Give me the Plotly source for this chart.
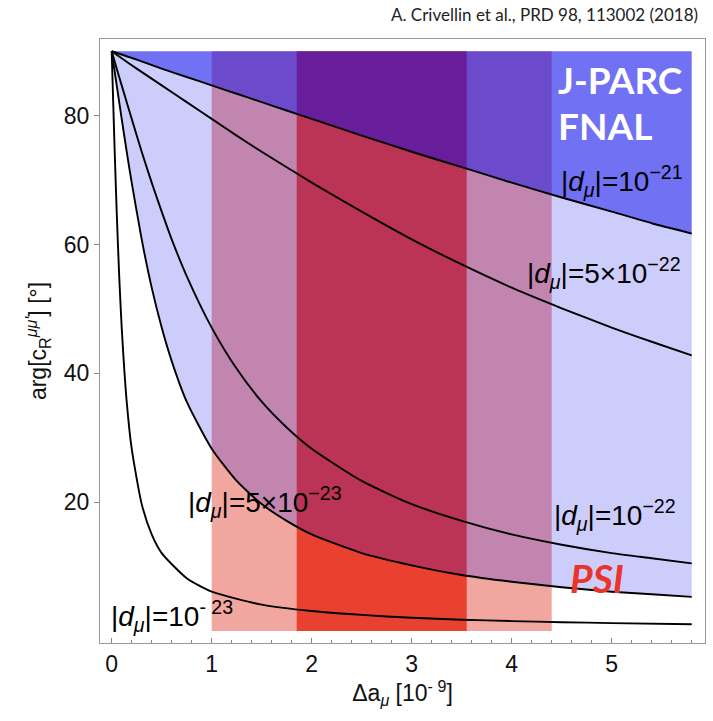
import plotly.graph_objects as go

# ---- data ----
x_21 = [0, 0.25, 0.5, 0.75, 1, 1.25, 1.5, 1.75, 2, 2.5, 3, 3.5, 4, 4.5, 5, 5.4, 5.8]
y_21 = [90, 88.7, 87.3, 86.0, 84.7, 83.4, 82.1, 80.8, 79.5, 76.9, 74.4, 72.0, 69.6, 67.3, 65.1, 63.3, 61.7]

x_5e22 = [0, 0.1, 0.25, 0.5, 0.75, 1, 1.25, 1.5, 1.75, 2, 2.5, 3, 3.5, 4, 4.5, 5, 5.4, 5.8]
y_5e22 = [90, 88.9, 87.3, 84.7, 82.1, 79.5, 76.9, 74.4, 72.0, 69.6, 65.1, 60.8, 56.9, 53.3, 50.1, 47.1, 44.9, 42.8]

x_22 = [0, 0.05, 0.1, 0.2, 0.3, 0.4, 0.5, 0.6, 0.75, 1, 1.25, 1.5, 1.75, 2, 2.5, 3, 3.5, 4, 4.5, 5, 5.4, 5.8]
y_22 = [90, 87.3, 84.7, 79.5, 74.4, 69.6, 65.1, 60.8, 55.1, 47.1, 40.7, 35.6, 31.6, 28.3, 23.3, 19.7, 17.1, 15.0, 13.4, 12.1, 11.3, 10.5]

x_5e23 = [0, 0.025, 0.05, 0.1, 0.15, 0.2, 0.3, 0.4, 0.5, 0.6, 0.75, 1, 1.25, 1.5, 1.75, 2, 2.5, 3, 3.5, 4, 4.5, 5, 5.4, 5.8]
y_5e23 = [90, 87.3, 84.7, 79.5, 74.4, 69.6, 60.8, 53.3, 47.1, 41.9, 35.6, 28.3, 23.3, 19.7, 17.1, 15.0, 12.1, 10.2, 8.7, 7.65, 6.8, 6.1, 5.7, 5.3]

x_23 = [0, 0.005, 0.01, 0.02, 0.03, 0.05, 0.075, 0.1, 0.15, 0.2, 0.3, 0.4, 0.5, 0.75, 1, 1.5, 2, 2.5, 3, 3.5, 4, 4.5, 5, 5.8]
y_23 = [90, 87.3, 84.7, 79.5, 74.4, 65.1, 55.1, 47.1, 35.6, 28.3, 19.7, 15.0, 12.1, 8.2, 6.1, 4.1, 3.1, 2.5, 2.05, 1.76, 1.54, 1.37, 1.23, 1.06]

band_psi = [1.0, 4.4]        # light red band
band_psi_core = [1.85, 3.55]  # dark red band
y_top = 90
x_ticks = [0, 1, 2, 3, 4, 5]
y_ticks = [20, 40, 60, 80]

BLUE_BASE = "5,5,235"
fig = go.Figure()

# lavender region between 5e-23 and 1e-21 curves
fig.add_trace(go.Scatter(
    x=x_5e23 + x_21[::-1], y=y_5e23 + y_21[::-1],
    fill="toself", fillcolor=f"rgba({BLUE_BASE},0.2)", mode="lines",
    line=dict(width=0), hoverinfo="skip", showlegend=False))
# blue region above 1e-21 curve
fig.add_trace(go.Scatter(
    x=x_21 + [x_21[-1], x_21[0]], y=y_21 + [y_top, y_top],
    fill="toself", fillcolor=f"rgba({BLUE_BASE},0.57)", mode="lines",
    line=dict(width=0), hoverinfo="skip", showlegend=False))

for xs, ys in [(x_21, y_21), (x_5e22, y_5e22), (x_22, y_22), (x_5e23, y_5e23), (x_23, y_23)]:
    fig.add_trace(go.Scatter(x=xs, y=ys, mode="lines",
                             line=dict(color="black", width=1.9, shape="spline", smoothing=0.6),
                             hoverinfo="skip", showlegend=False))

shapes = [
    dict(type="rect", xref="x", yref="y", x0=band_psi[0], x1=band_psi[1], y0=0, y1=y_top,
         fillcolor="rgb(241,166,160)", line=dict(width=0), layer="below"),
    dict(type="rect", xref="x", yref="y", x0=band_psi_core[0], x1=band_psi_core[1], y0=0, y1=y_top,
         fillcolor="rgb(233,64,48)", line=dict(width=0), layer="below"),
]

HELV = "Liberation Sans"
lab_font = dict(family=HELV, size=28, color="black")
d = "|<i>d</i><sub><i>μ</i></sub>|="
annotations = [
    dict(x=0.992, y=1 + 25 / 604, xref="paper", yref="paper", xanchor="right", yanchor="middle",
         text="A. Crivellin et al., PRD 98, 113002 (2018)", showarrow=False,
         font=dict(family="Lato", size=17, color="#222")),
    dict(x=4.44, y=85.6, text="<b>J-PARC</b>", xanchor="left", yanchor="middle", showarrow=False,
         font=dict(family="Lato", size=37, color="white")),
    dict(x=4.44, y=78.4, text="<b>FNAL</b>", xanchor="left", yanchor="middle", showarrow=False,
         font=dict(family="Lato", size=37, color="white")),
    dict(x=4.47, y=69.8, text=d + "10<sup>−21</sup>", xanchor="left", yanchor="middle", showarrow=False, font=lab_font),
    dict(x=4.13, y=55.5, text=d + "5×10<sup>−22</sup>", xanchor="left", yanchor="middle", showarrow=False, font=lab_font),
    dict(x=4.40, y=18.0, text=d + "10<sup>−22</sup>", xanchor="left", yanchor="middle", showarrow=False, font=lab_font),
    dict(x=0.74, y=20.0, text=d + "5×10<sup>−23</sup>", xanchor="left", yanchor="middle", showarrow=False, font=lab_font),
    dict(x=-0.03, y=2.4, text=d + "10<sup>- 23</sup>", xanchor="left", yanchor="middle", showarrow=False, font=lab_font),
    dict(x=4.56, y=8.3, text="<b><i>PSI</i></b>", xanchor="left", yanchor="middle", showarrow=False,
         font=dict(family="Lato", size=39, color="rgb(232,52,42)")),
]

tick_font = dict(family=HELV, size=23, color="#111")
title_font = dict(family=HELV, size=23, color="#111")
fig.update_layout(
    width=713, height=721,
    margin=dict(l=100, r=8, t=39, b=78),
    paper_bgcolor="white", plot_bgcolor="white",
    shapes=shapes, annotations=annotations,
    font=dict(family=HELV),
    xaxis=dict(range=[-0.117, 5.933], tickvals=x_ticks, ticks="inside", ticklen=5, tickcolor="#888",
               minor=dict(dtick=0.2, ticks="inside", ticklen=3, tickcolor="#888", showgrid=False),
               showline=True, mirror=True, linecolor="#999", linewidth=1, showgrid=False, zeroline=False,
               tickfont=tick_font,
               title=dict(text="Δa<sub><i>μ</i></sub> [10<sup>- 9</sup>]", font=title_font, standoff=8)),
    yaxis=dict(range=[-1.86, 91.9], tickvals=y_ticks, ticks="outside", ticklen=5, tickcolor="#888",
               showline=True, mirror=True, linecolor="#999", linewidth=1, showgrid=False, zeroline=False,
               tickfont=tick_font,
               title=dict(text="arg[c<sub>R</sub><sup><i>μμ'</i></sup>] [°]", font=title_font, standoff=10)),
)

fig.write_html("out.html")
